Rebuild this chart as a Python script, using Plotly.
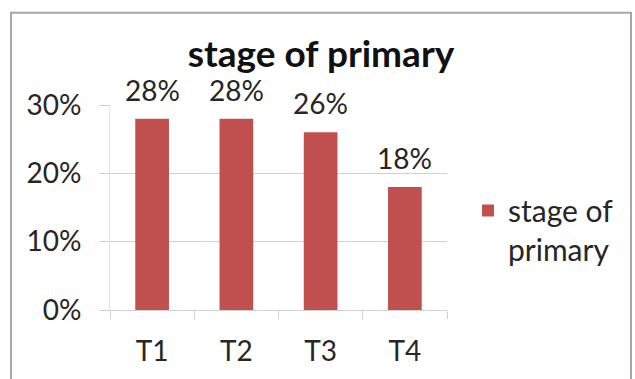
import plotly.graph_objects as go

# Chart data
categories = ["T1", "T2", "T3", "T4"]
shares = [0.28, 0.28, 0.26, 0.18]
series_name = "stage of primary"
y_ticks = [0.0, 0.1, 0.2, 0.3]
y_tick_labels = ["0%", "10%", "20%", "30%"]

W, H = 635, 379
ML, MR, MT, MB = 110, 188, 105, 65
FONT = "Lato"
BAR_RED = "#C0504D"
GRID = "#d0d0d0"
TXT = "#262626"

fig = go.Figure()
fig.add_trace(go.Bar(
    x=categories,
    y=shares,
    name="stage of<br>primary",
    marker=dict(color=BAR_RED, line=dict(width=0)),
    showlegend=True,
))

# Value labels above each bar
for cat, val in zip(categories, shares):
    fig.add_annotation(
        x=cat, y=val, xref="x", yref="y",
        text=f"{val:.0%}", showarrow=False,
        yanchor="bottom", yshift=10,
        font=dict(family=FONT, size=28, color=TXT),
    )

# Outer chart frame (paper coordinates derived from the margins)
pw = W - ML - MR
ph = H - MT - MB
def px_to_paper_x(px):
    return (px - ML) / pw
def px_to_paper_y(py):
    return (H - MB - py) / ph

fig.add_shape(
    type="rect", xref="paper", yref="paper",
    x0=px_to_paper_x(11), x1=px_to_paper_x(631),
    y0=px_to_paper_y(395), y1=px_to_paper_y(11),
    line=dict(color="#a6a6a6", width=2), fillcolor="rgba(0,0,0,0)",
    layer="below",
)

fig.update_layout(
    width=W, height=H,
    margin=dict(l=ML, r=MR, t=MT, b=MB, pad=0),
    paper_bgcolor="white", plot_bgcolor="white",
    bargap=0.6,
    title=dict(
        text="<b>stage of primary</b>",
        x=321 / W, xanchor="center",
        y=1 - 54 / H, yanchor="middle",
        font=dict(family=FONT, size=37, color="#111111"),
    ),
    legend=dict(
        x=px_to_paper_x(468), xanchor="left",
        y=px_to_paper_y(186), yanchor="top",
        valign="top",
        font=dict(family=FONT, size=30, color=TXT),
        bgcolor="rgba(0,0,0,0)",
    ),
    xaxis=dict(
        type="category",
        tickson="boundaries",
        ticks="outside", ticklen=8, tickcolor=GRID, tickwidth=1,
        showline=True, linecolor=GRID, linewidth=1,
        showgrid=False,
        ticklabelstandoff=16,
        tickfont=dict(family=FONT, size=28, color=TXT),
        fixedrange=True,
    ),
    yaxis=dict(
        range=[0, 0.30],
        tickvals=y_ticks, ticktext=y_tick_labels,
        ticks="outside", ticklen=10, tickcolor=GRID, tickwidth=1,
        showline=True, linecolor="#e4e4e4", linewidth=1,
        showgrid=True, gridcolor=GRID, gridwidth=1,
        zeroline=False,
        ticklabelstandoff=12,
        tickfont=dict(family=FONT, size=28, color=TXT),
        fixedrange=True,
    ),
)

fig.write_html("out.html")
